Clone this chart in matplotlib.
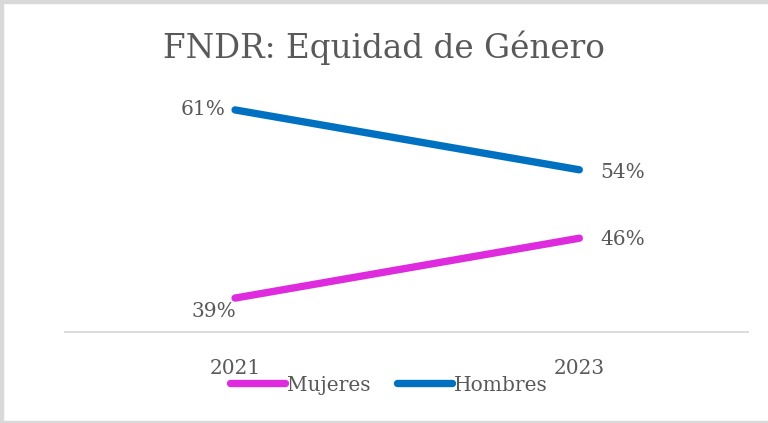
import matplotlib
matplotlib.use("Agg")
import matplotlib.pyplot as plt
from matplotlib.patches import Rectangle

years = ["2021", "2023"]
mujeres = [39, 46]
hombres = [61, 54]
series_names = ["Mujeres", "Hombres"]
title = "FNDR: Equidad de Género"

col_m = "#DE2BDE"
col_h = "#0070C0"
txt = "#595959"
plt.rcParams["font.family"] = ["DejaVu Serif"]
fs = 14.5

W, H = 768, 423
fig = plt.figure(figsize=(W / 100, H / 100), dpi=100)

# marco gris del gráfico
grey = "#D9D9D9"
fig.patches.append(Rectangle((0, 1 - 3 / H), 1, 3 / H, transform=fig.transFigure, color=grey, zorder=0))
fig.patches.append(Rectangle((0, 0), 3 / W, 1, transform=fig.transFigure, color=grey, zorder=0))
fig.patches.append(Rectangle((0, 0), 1, 2 / H, transform=fig.transFigure, color=grey, zorder=0))

ax = fig.add_axes([65 / W, 1 - 332.3 / H, 683 / W, (332.3 - 75.7) / H])
x = range(len(years))
lm, = ax.plot(x, mujeres, color=col_m, lw=5.3, solid_capstyle="round")
lh, = ax.plot(x, hombres, color=col_h, lw=5.3, solid_capstyle="round")
ax.set_xlim(-0.494, 1.49)
ax.set_ylim(35, 65)

for s in ["top", "right", "left"]:
    ax.spines[s].set_visible(False)
ax.spines["bottom"].set_color(grey)
ax.spines["bottom"].set_linewidth(1.3)
ax.set_yticks([])
ax.set_xticks(list(x))
ax.set_xticklabels(years, fontsize=fs, color=txt)
ax.tick_params(axis="x", length=0, pad=19)

# etiquetas de datos
ax.annotate(f"{hombres[0]}%", (0, hombres[0]), xytext=(-7, 0), textcoords="offset points",
            ha="right", va="center", fontsize=fs, color=txt)
ax.annotate(f"{hombres[1]}%", (1, hombres[1]), xytext=(15, -2), textcoords="offset points",
            ha="left", va="center", fontsize=fs, color=txt)
ax.annotate(f"{mujeres[1]}%", (1, mujeres[1]), xytext=(15, -1), textcoords="offset points",
            ha="left", va="center", fontsize=fs, color=txt)
ax.annotate(f"{mujeres[0]}%", (0, mujeres[0]), xytext=(1, -10), textcoords="offset points",
            ha="right", va="center", fontsize=fs, color=txt)

fig.legend([lm, lh], series_names, loc="center", bbox_to_anchor=(389 / W, 1 - 385 / H),
           ncol=2, frameon=False, fontsize=fs, labelcolor=txt, handlelength=2.75,
           handletextpad=0.1, columnspacing=1.3)

fig.text(0.5, 1 - 48 / H, title, ha="center", va="center", fontsize=23.5, color=txt)

fig.savefig("out.png", dpi=100)
